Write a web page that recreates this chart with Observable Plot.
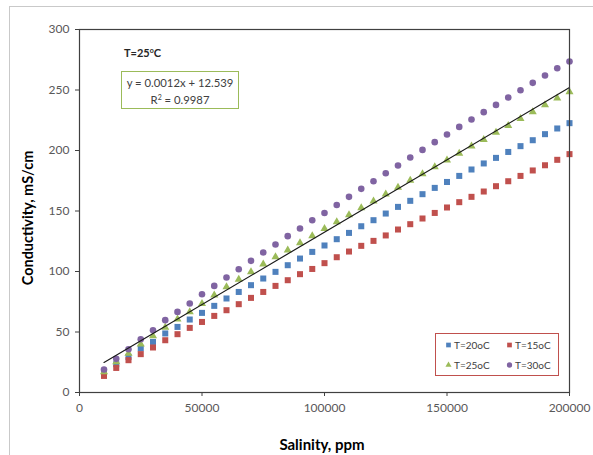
<!DOCTYPE html>
<html>
<head>
<meta charset="utf-8">
<script src="https://cdn.jsdelivr.net/npm/d3@7"></script>
<script src="https://cdn.jsdelivr.net/npm/@observablehq/plot@0.6"></script>
<style>
  html, body { margin: 0; padding: 0; background: #fff; }
  #wrap { position: relative; width: 593px; height: 455px; overflow: hidden; font-family: Lato, "Open Sans", sans-serif; }
  #outer { position: absolute; left: 9px; top: 6px; width: 600px; height: 470px; border-left: 1.5px solid #c9c9c9; border-top: 1.5px solid #c9c9c9; }
  .ov { position: absolute; color: #262626; white-space: nowrap; }
  #ttl { left: 124px; top: 46px; font-weight: bold; font-size: 11px; }
  #ttl sup { font-size: 7px; vertical-align: 4px; }
  #eq { left: 121px; top: 71px; width: 116px; height: 33px; border: 1.3px solid #9bbb59; background: #fff; font-size: 11.3px; line-height: 15px; text-align: center; color: #404040; padding-top: 3px; box-sizing: content-box; }
  #eq sup { font-size: 7px; vertical-align: 4px; }
  #leg { left: 435px; top: 333px; width: 122px; height: 41px; border: 1.3px solid #c0504d; background: #fff; font-size: 10px; color: #404040; }
  .li { position: absolute; display: flex; align-items: center; }
  .li svg { margin-right: 2px; }
  #ytitle { left: 27px; top: 218px; transform: translate(-50%, -50%) rotate(-90deg); font-weight: bold; font-size: 14.5px; color: #000; }
  #xtitle { left: 322px; top: 444px; transform: translate(-50%, -50%); font-weight: bold; font-size: 15px; color: #000; }
</style>
</head>
<body>
<div id="wrap">
  <div id="outer"></div>
  <div id="chart"></div>
</div>
<script>
// Salinity (ppm)
const salinity = [10000,15000,20000,25000,30000,35000,40000,45000,50000,55000,60000,65000,70000,75000,80000,85000,90000,95000,100000,105000,110000,115000,120000,125000,130000,135000,140000,145000,150000,155000,160000,165000,170000,175000,180000,185000,190000,195000,200000];

// Conductivity (mS/cm) per temperature
const t20 = [16.2,23.4,29.4,36.4,41.8,48.8,54.2,60.3,65.8,71.6,77.7,83.1,88.7,94.2,99.7,105.2,110.7,116.2,121.5,126.7,131.9,137.4,142.4,147.9,153.4,158.4,163.9,169.1,174.0,179.0,184.3,189.3,193.9,198.8,203.6,208.5,213.5,218.2,222.6];
const t15 = [13.7,20.3,26.7,31.7,37.2,43.2,48.2,53.4,58.3,63.3,68.0,73.0,78.2,83.1,88.1,92.8,97.8,102.1,106.9,111.8,116.5,121.2,125.3,129.8,134.7,139.1,143.8,148.4,152.9,157.3,161.7,166.1,170.5,174.6,179.0,183.5,187.8,192.3,197.0];
const t25 = [17.0,25.3,32.2,39.9,46.8,53.7,60.6,66.6,73.5,80.4,87.3,93.4,99.7,106.0,112.1,117.6,123.6,129.5,135.5,141.0,146.8,152.6,158.1,163.9,169.4,175.2,180.7,186.4,192.0,197.5,203.6,209.0,214.9,220.6,226.4,231.9,237.7,243.2,248.4];
const t30 = [19.0,27.8,35.8,44.0,51.5,59.8,66.6,73.5,81.2,88.1,95.0,101.9,108.8,115.7,122.3,129.2,135.5,142.4,148.4,155.0,161.7,168.3,174.6,181.2,187.6,194.2,200.5,206.9,213.2,219.5,225.6,231.7,237.7,243.8,249.8,255.9,262.0,268.0,273.5];

const seriesNames = ["T=20oC", "T=15oC", "T=25oC", "T=30oC"];
const seriesColors = ["#4f81bd", "#c0504d", "#9bbb59", "#8064a2"];
const seriesSymbols = ["square", "square", "triangle", "circle"];

const xTicks = [0, 50000, 100000, 150000, 200000];
const yTicks = [0, 50, 100, 150, 200, 250, 300];

const fitTitle = "T=25";
const fitEquation = "y = 0.0012x + 12.539";
const fitR2 = "0.9987";

const seriesValues = [t20, t15, t25, t30];
const rows = (vals) => salinity.map((s, i) => ({x: s, y: vals[i]}));

const dotMarks = seriesValues.map((vals, k) =>
  Plot.dot(rows(vals), {
    x: "x", y: "y",
    symbol: () => seriesSymbols[k],
    fill: seriesColors[k],
    r: seriesSymbols[k] === "circle" ? 3.3 : seriesSymbols[k] === "triangle" ? 3.0 : 3.4,
    stroke: "none"
  })
);

const chart = Plot.plot({
  width: 593,
  height: 455,
  marginLeft: 79,
  marginRight: 24,
  marginTop: 29,
  marginBottom: 63,
  style: {fontFamily: "Lato, 'Open Sans', sans-serif", background: "transparent"},
  x: {domain: [0, 200000], ticks: xTicks},
  y: {domain: [0, 300], ticks: yTicks},
  symbol: {type: "identity"},
  marks: [
    ...dotMarks,
    Plot.linearRegressionY(rows(t25), {x: "x", y: "y", stroke: "#1a1a1a", strokeWidth: 1.2, ci: 0}),
    Plot.frame({stroke: "#404040", strokeWidth: 1.2}),
    Plot.axisX({ticks: xTicks, tickSize: 4, tickPadding: 7, tickFormat: d => String(d), label: null, fontSize: 12, color: "#595959", stroke: "#404040"}),
    Plot.axisY({ticks: yTicks, tickSize: 4, tickPadding: 6, tickFormat: d => String(d), label: null, fontSize: 12, color: "#595959", stroke: "#404040"})
  ]
});
chart.style.position = "absolute";
chart.style.left = "0px";
chart.style.top = "0px";
document.getElementById("chart").appendChild(chart);

const wrap = document.getElementById("wrap");
function addDiv(id, html) {
  const d = document.createElement("div");
  d.id = id; d.className = "ov"; d.innerHTML = html;
  wrap.appendChild(d);
  return d;
}
addDiv("ttl", `${fitTitle}<sup>o</sup>C`);
addDiv("eq", `${fitEquation}<br>R<sup>2</sup> = ${fitR2}`);
addDiv("ytitle", "Conductivity, mS/cm");
addDiv("xtitle", "Salinity, ppm");

const leg = addDiv("leg", "");
const legPos = [[9, 5], [70, 5], [9, 25], [70, 25]];
seriesNames.forEach((name, k) => {
  const item = document.createElement("div");
  item.className = "li";
  item.style.left = legPos[k][0] + "px";
  item.style.top = legPos[k][1] + "px";
  const shape = seriesSymbols[k] === "square" ? d3.symbolSquare : seriesSymbols[k] === "triangle" ? d3.symbolTriangle : d3.symbolCircle;
  const sym = d3.symbol(shape, seriesSymbols[k] === "triangle" ? 16 : 22)();
  item.innerHTML = `<svg width="7" height="10" viewBox="-3.5 -5 7 10"><path d="${sym}" fill="${seriesColors[k]}"/></svg><span>${name}</span>`;
  leg.appendChild(item);
});
</script>
</body>
</html>
